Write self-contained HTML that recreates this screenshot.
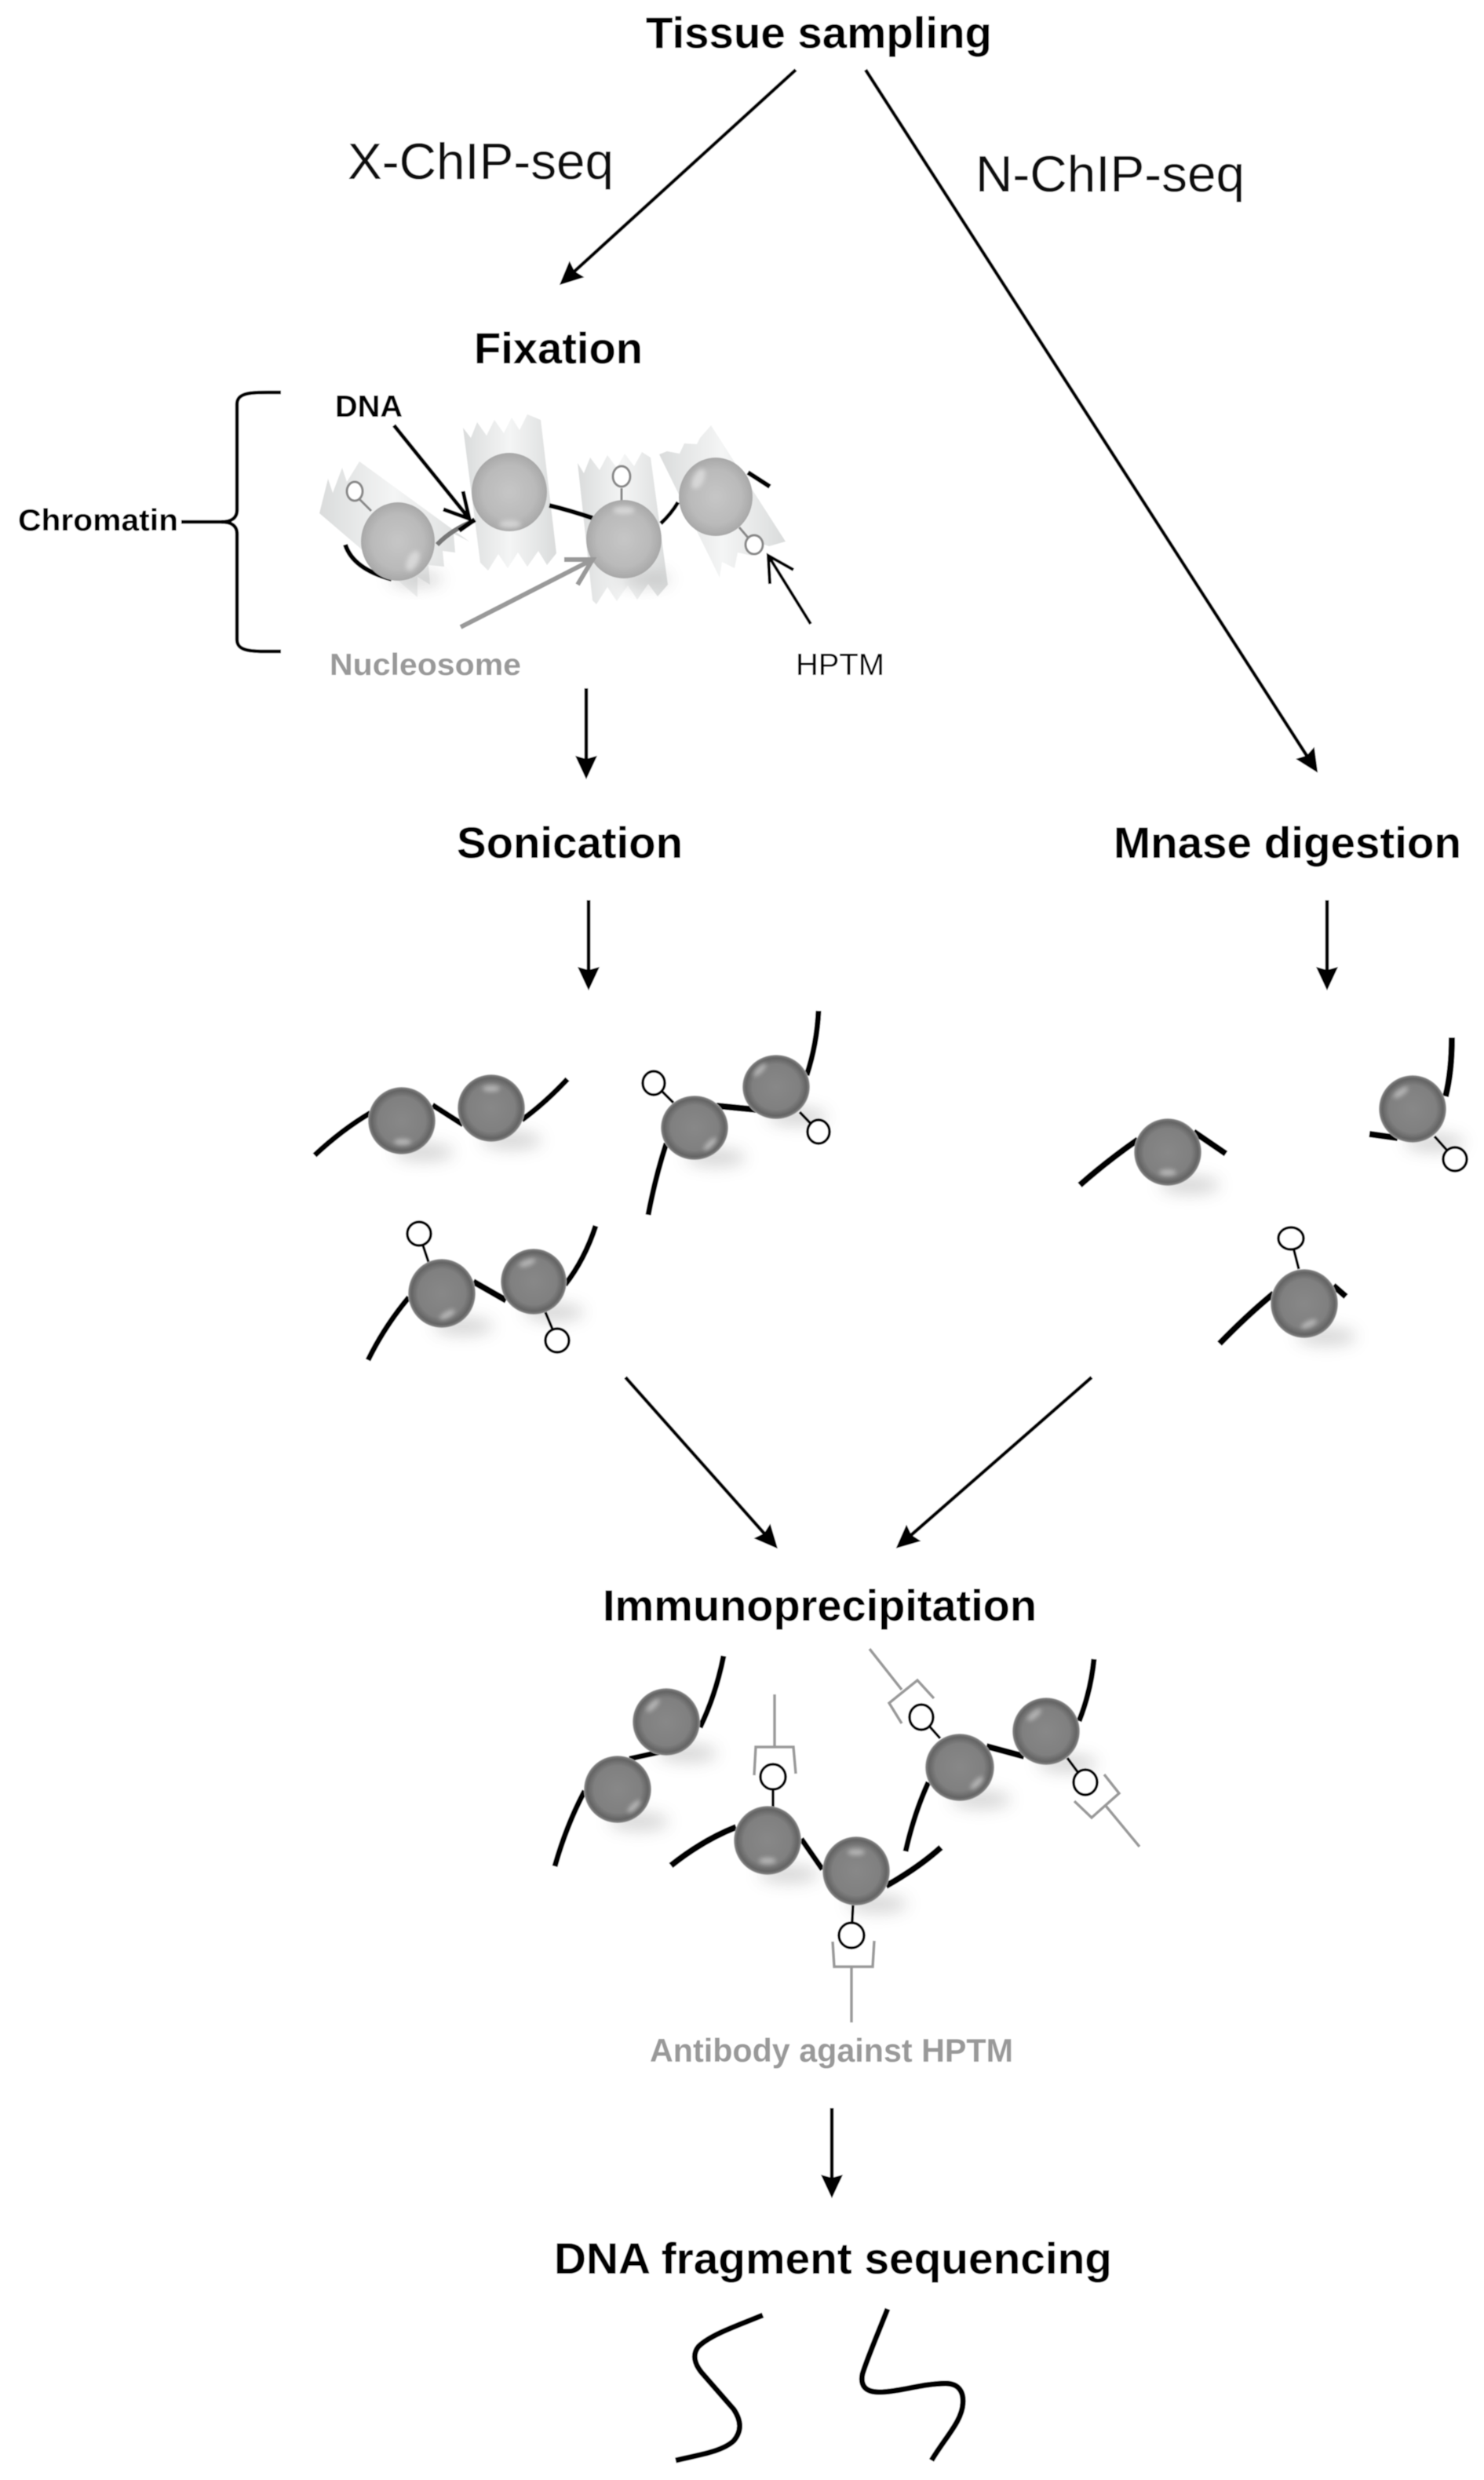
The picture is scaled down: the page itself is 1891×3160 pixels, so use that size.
<!DOCTYPE html>
<html><head><meta charset="utf-8"><style>
html,body{margin:0;padding:0;background:#fff;width:1891px;height:3160px;overflow:hidden}
svg{display:block}
text{font-family:"Liberation Sans",Arial,sans-serif;fill:#000}
.h{font-size:56px;font-weight:bold}
.r{font-size:65px;fill:#111}
.c{font-size:39px;font-weight:bold}
.g{fill:#999}
.a{stroke:#000;stroke-width:4.5;fill:none;marker-end:url(#ah)}
.d{stroke:#000;stroke-width:7;fill:none;stroke-linecap:butt}
.s{stroke:#000;stroke-width:3.5;fill:none}
.o{stroke:#000;stroke-width:3.5;fill:#fff}
.ab{stroke:#999;stroke-width:3.5;fill:none}
.b{fill:url(#ball)}
.l{fill:url(#lball)}
.hl{fill:#fff;opacity:.42;filter:url(#b4)}
.sh{fill:#999;opacity:.42;filter:url(#b9)}
.w{fill:url(#wrap);opacity:.9}
</style></head><body>
<svg width="1891" height="3160" viewBox="0 0 1891 3160" xmlns="http://www.w3.org/2000/svg">
<defs>
<marker id="ah" markerUnits="userSpaceOnUse" markerWidth="40" markerHeight="36" refX="15" refY="18" orient="auto"><path d="M0,4 L30,18 L0,32 L4,18z" fill="#000"/></marker>
<radialGradient id="ball"><stop offset="0" stop-color="#888"/><stop offset=".7" stop-color="#808080"/><stop offset=".9" stop-color="#646464"/><stop offset=".97" stop-color="#7c7c7c"/><stop offset="1" stop-color="#bbb"/></radialGradient>
<radialGradient id="lball"><stop offset="0" stop-color="#c6c6c6"/><stop offset=".7" stop-color="#bababa"/><stop offset="1" stop-color="#a8a8a8"/></radialGradient>
<linearGradient id="wrap"><stop offset="0" stop-color="#d6d8d8"/><stop offset=".5" stop-color="#f3f4f4"/><stop offset="1" stop-color="#d6d8d8"/></linearGradient>
<filter id="b4" x="-60%" y="-60%" width="220%" height="220%"><feGaussianBlur stdDeviation="3"/></filter>
<filter id="b9" x="-60%" y="-100%" width="220%" height="300%"><feGaussianBlur stdDeviation="10"/></filter>
<filter id="soft" x="0" y="0" width="1891" height="3160" filterUnits="userSpaceOnUse"><feGaussianBlur stdDeviation=".6"/></filter>
</defs>
<g filter="url(#soft)">
<rect width="1891" height="3160" fill="#fff"/>

<!-- headings -->
<text class="h" x="823" y="61" textLength="441" lengthAdjust="spacingAndGlyphs">Tissue sampling</text>
<text class="r" x="443" y="228" textLength="339" lengthAdjust="spacingAndGlyphs">X-ChIP-seq</text>
<text class="r" x="1243" y="244" textLength="343" lengthAdjust="spacingAndGlyphs">N-ChIP-seq</text>
<text class="h" x="604" y="463" textLength="215" lengthAdjust="spacingAndGlyphs">Fixation</text>
<text class="h" x="582" y="1093" textLength="288" lengthAdjust="spacingAndGlyphs">Sonication</text>
<text class="h" x="1419" y="1093" textLength="443" lengthAdjust="spacingAndGlyphs">Mnase digestion</text>
<text class="h" x="768" y="2065" textLength="553" lengthAdjust="spacingAndGlyphs">Immunoprecipitation</text>
<text class="h" x="706" y="2897" textLength="711" lengthAdjust="spacingAndGlyphs">DNA fragment sequencing</text>

<!-- main arrows -->
<path class="a" d="M1014,89 L724,353"/>
<path class="a" d="M1103,89 L1671,972"/>
<path class="a" d="M747,877 V978"/>
<path class="a" d="M750,1147 V1247"/>
<path class="a" d="M1691,1147 V1247"/>
<path class="a" d="M797,1755 L981,1962"/>
<path class="a" d="M1391,1755 L1153,1963"/>
<path class="a" d="M1060,2686 V2786"/>

<!-- chromatin brace -->
<path d="M358,500 C325,500 302,498 302,515 L302,650 C302,660 295,665 282,665 C295,665 302,670 302,680 L302,815 C302,832 325,830 358,830" fill="none" stroke="#000" stroke-width="4.5"/>
<path d="M231,665 H285" stroke="#000" stroke-width="4.5"/>
<text class="c" x="23" y="676" textLength="204" lengthAdjust="spacingAndGlyphs">Chromatin</text>
<text class="c" x="427" y="531" textLength="86" lengthAdjust="spacingAndGlyphs">DNA</text>
<text class="c g" x="420" y="860" textLength="244" lengthAdjust="spacingAndGlyphs">Nucleosome</text>
<text x="1014" y="860" font-size="39" textLength="113" lengthAdjust="spacingAndGlyphs">HPTM</text>

<!-- fixation wrappers -->
<polygon class="w" points="458,588 442,614 436,596 424,628 418,610 407,654 532,761 532,735 548,745 546,720 566,722 564,702 580,704 578,680 598,690"/>
<polygon class="w" points="590,545 600,558 608,538 620,555 630,535 642,552 652,532 662,548 672,528 689,535 709,705 697,720 686,702 672,722 660,704 647,724 635,706 622,727 612,717"/>
<polygon class="w" points="736,590 744,603 752,583 764,599 774,580 786,596 796,578 808,594 818,576 829,583 851,745 838,760 826,744 812,764 800,746 786,766 774,748 760,770 755,765"/>
<polygon class="w" points="906,542 892,558 888,566 872,565 866,578 850,575 840,579 917,736 920,716 936,724 940,704 958,708 962,690 980,696 1001,690"/>
<ellipse class="sh" cx="530" cy="738" rx="34" ry="9"/>
<ellipse class="sh" cx="820" cy="738" rx="34" ry="9"/>

<!-- fixation DNA -->
<path class="d" style="stroke-width:6" d="M440,694 Q450,725 499,738"/>
<path d="M557,694 Q575,675 605,663" fill="none" stroke="#777" stroke-width="6"/>
<path class="d" style="stroke-width:6" d="M585,676 L605,662"/>
<path class="d" style="stroke-width:6" d="M700,644 Q725,650 755,660"/>
<path class="d" style="stroke-width:5" d="M842,667 Q855,655 864,640"/>
<path class="d" style="stroke-width:6" d="M953,602 L981,620"/>
<!-- fixation HPTM -->
<g fill="#fff" stroke="#888" stroke-width="3">
<path d="M458,636 L473,651"/><ellipse cx="452" cy="626" rx="10" ry="12"/>
<path d="M792,622 V638"/><ellipse cx="792" cy="607" rx="11" ry="13"/>
<path d="M942,672 L954,686"/><ellipse cx="961" cy="694" rx="11" ry="12"/>
</g>
<!-- fixation balls -->
<ellipse class="l" cx="507" cy="690" rx="47" ry="50"/>
<ellipse class="l" cx="649" cy="627" rx="48" ry="50"/>
<ellipse class="l" cx="795" cy="687" rx="48" ry="50"/>
<ellipse class="l" cx="912" cy="633" rx="47" ry="50"/>
<ellipse class="hl" cx="526" cy="715" rx="7" ry="14" transform="rotate(25 526 715)"/>
<ellipse class="hl" cx="650" cy="668" rx="14" ry="5"/>
<ellipse class="hl" cx="795" cy="650" rx="14" ry="5"/>
<ellipse class="hl" cx="890" cy="610" rx="7" ry="14" transform="rotate(25 890 610)"/>

<!-- fixation annotation arrows -->
<path d="M502,542 L598,661 M565,649 L598,661 L590,626" fill="none" stroke="#000" stroke-width="5"/>
<path d="M587,799 L755,713 M719,713 L755,713 L736,745" fill="none" stroke="#999" stroke-width="6"/>
<path d="M1033,795 L979,708 M1011,726 L979,708 L981,744" fill="none" stroke="#000" stroke-width="4"/>

<!-- shadows -->
<g>
<ellipse class="sh" cx="540" cy="1468" rx="38" ry="11"/>
<ellipse class="sh" cx="652" cy="1453" rx="38" ry="11"/>
<ellipse class="sh" cx="912" cy="1475" rx="38" ry="11"/>
<ellipse class="sh" cx="1016" cy="1423" rx="38" ry="11"/>
<ellipse class="sh" cx="590" cy="1690" rx="38" ry="11"/>
<ellipse class="sh" cx="706" cy="1672" rx="38" ry="11"/>
<ellipse class="sh" cx="1516" cy="1510" rx="38" ry="11"/>
<ellipse class="sh" cx="1828" cy="1456" rx="38" ry="11"/>
<ellipse class="sh" cx="1690" cy="1703" rx="38" ry="11"/>
<ellipse class="sh" cx="876" cy="2234" rx="38" ry="11"/>
<ellipse class="sh" cx="814" cy="2321" rx="38" ry="11"/>
<ellipse class="sh" cx="1005" cy="2388" rx="38" ry="11"/>
<ellipse class="sh" cx="1118" cy="2426" rx="38" ry="11"/>
<ellipse class="sh" cx="1250" cy="2293" rx="38" ry="11"/>
<ellipse class="sh" cx="1360" cy="2247" rx="38" ry="11"/>
</g>
<!-- sonication fragments -->
<path class="d" d="M401,1472 Q435,1440 472,1418"/>
<path class="d" d="M551,1408 L590,1433"/>
<path class="d" d="M665,1427 Q695,1405 723,1375"/>
<path class="d" d="M826,1548 Q835,1500 849,1457"/>
<path class="d" style="stroke-width:8" d="M913,1409 L964,1414"/>
<path class="d" d="M1028,1370 Q1041,1330 1043,1288"/>
<path class="d" d="M469,1733 Q490,1690 521,1653"/>
<path class="d" style="stroke-width:8" d="M603,1633 L645,1657"/>
<path class="d" d="M720,1637 Q745,1605 759,1562"/>
<path class="d" style="stroke-width:8" d="M1376,1510 Q1410,1480 1450,1452"/>
<path class="d" style="stroke-width:8" d="M1521,1442 L1562,1470"/>
<path class="d" style="stroke-width:8" d="M1850,1322 Q1850,1365 1842,1397"/>
<path class="d" style="stroke-width:8" d="M1745,1445 L1781,1450"/>
<path class="d" style="stroke-width:8" d="M1554,1712 Q1590,1675 1623,1648"/>
<path class="d" style="stroke-width:8" d="M1699,1638 L1715,1652"/>

<path class="s" d="M833,1380 L858,1405 M1043,1442 L1019,1417 M534,1572 L546,1608 M710,1708 L695,1672 M1854,1477 L1828,1448 M1645,1578 L1655,1617"/>
<ellipse class="o" cx="833" cy="1380" rx="14" ry="15"/>
<ellipse class="o" cx="1043" cy="1442" rx="14" ry="15"/>
<ellipse class="o" cx="534" cy="1572" rx="15" ry="15"/>
<ellipse class="o" cx="710" cy="1708" rx="15" ry="15"/>
<ellipse class="o" cx="1854" cy="1477" rx="15" ry="15"/>
<ellipse class="o" cx="1645" cy="1578" rx="16" ry="14"/>

<ellipse class="b" cx="512" cy="1428" rx="43" ry="43"/>
<ellipse class="b" cx="626" cy="1412" rx="43" ry="43"/>
<ellipse class="b" cx="885" cy="1437" rx="43" ry="41"/>
<ellipse class="b" cx="989" cy="1385" rx="43" ry="41"/>
<ellipse class="b" cx="563" cy="1648" rx="43" ry="44"/>
<ellipse class="b" cx="680" cy="1633" rx="42" ry="42"/>
<ellipse class="b" cx="1488" cy="1468" rx="43" ry="43"/>
<ellipse class="b" cx="1800" cy="1413" rx="43" ry="43"/>
<ellipse class="b" cx="1662" cy="1661" rx="43" ry="44"/>
<ellipse class="hl" cx="513" cy="1455" rx="11" ry="4"/>
<ellipse class="hl" cx="626" cy="1387" rx="11" ry="4"/>
<ellipse class="hl" cx="905" cy="1458" rx="11" ry="4" transform="rotate(-45 905 1458)"/>
<ellipse class="hl" cx="968" cy="1363" rx="11" ry="4" transform="rotate(-45 968 1363)"/>
<ellipse class="hl" cx="570" cy="1675" rx="11" ry="4" transform="rotate(-30 570 1675)"/>
<ellipse class="hl" cx="672" cy="1609" rx="11" ry="4" transform="rotate(-20 672 1609)"/>
<ellipse class="hl" cx="1488" cy="1494" rx="11" ry="4"/>
<ellipse class="hl" cx="1785" cy="1392" rx="11" ry="4" transform="rotate(-35 1785 1392)"/>
<ellipse class="hl" cx="1668" cy="1687" rx="11" ry="4" transform="rotate(-25 1668 1687)"/>

<!-- immunoprecipitation -->
<path class="d" d="M922,2110 Q912,2160 892,2201"/>
<path class="d" d="M802,2241 L843,2232"/>
<path class="d" d="M707,2378 Q722,2325 745,2282"/>
<path class="d" style="stroke-width:8" d="M855,2377 Q895,2345 938,2328"/>
<path class="d" d="M1021,2343 L1048,2382"/>
<path class="d" style="stroke-width:8" d="M1129,2403 Q1170,2380 1199,2354"/>
<path class="d" d="M1154,2359 Q1165,2310 1183,2271"/>
<path class="d" style="stroke-width:8" d="M1257,2225 L1305,2238"/>
<path class="d" d="M1375,2193 Q1390,2155 1394,2114"/>

<path class="s" d="M985,2303 V2264 M1087,2427 L1085,2466 M1198,2215 L1174,2188 M1360,2240 L1383,2271"/>
<path class="ab" d="M987,2159 V2226 M961,2262 L963,2226 H1011 L1014,2260"/>
<path class="ab" d="M1085,2577 V2506 M1061,2474 L1063,2506 H1112 L1114,2473"/>
<path class="ab" d="M1108,2101 L1149,2153 M1190,2164 L1169,2141 L1133,2170 L1149,2196"/>
<path class="ab" d="M1452,2353 L1409,2301 M1407,2261 L1426,2285 L1391,2316 L1369,2295"/>
<ellipse class="o" cx="985" cy="2264" rx="16" ry="16"/>
<ellipse class="o" cx="1085" cy="2466" rx="16" ry="16"/>
<ellipse class="o" cx="1174" cy="2188" rx="15" ry="16"/>
<ellipse class="o" cx="1383" cy="2271" rx="15" ry="16"/>

<ellipse class="b" cx="849" cy="2194" rx="43" ry="43"/>
<ellipse class="b" cx="787" cy="2280" rx="43" ry="43"/>
<ellipse class="b" cx="978" cy="2345" rx="43" ry="44"/>
<ellipse class="b" cx="1091" cy="2384" rx="43" ry="44"/>
<ellipse class="b" cx="1223" cy="2252" rx="44" ry="43"/>
<ellipse class="b" cx="1333" cy="2206" rx="43" ry="43"/>
<ellipse class="hl" cx="832" cy="2173" rx="11" ry="4" transform="rotate(-45 832 2173)"/>
<ellipse class="hl" cx="808" cy="2302" rx="11" ry="4" transform="rotate(-45 808 2302)"/>
<ellipse class="hl" cx="978" cy="2371" rx="11" ry="4"/>
<ellipse class="hl" cx="1091" cy="2360" rx="11" ry="4"/>
<ellipse class="hl" cx="1245" cy="2272" rx="11" ry="4" transform="rotate(-45 1245 2272)"/>
<ellipse class="hl" cx="1318" cy="2185" rx="11" ry="4" transform="rotate(-40 1318 2185)"/>

<text x="828" y="2627" font-size="42" font-weight="bold" class="g" textLength="463" lengthAdjust="spacingAndGlyphs">Antibody against HPTM</text>

<!-- DNA fragments -->
<path class="d" d="M972,2950 C940,2963 905,2975 890,2990 C882,3000 885,3012 894,3023 L935,3070 C945,3085 945,3098 935,3110 C920,3124 890,3128 861,3135"/>
<path class="d" d="M1131,2942 C1118,2975 1105,3005 1099,3025 C1096,3040 1103,3048 1120,3048 C1145,3048 1175,3037 1205,3037 C1222,3037 1228,3048 1227,3062 C1226,3085 1205,3105 1187,3135"/>
</g>
</svg>
</body></html>
